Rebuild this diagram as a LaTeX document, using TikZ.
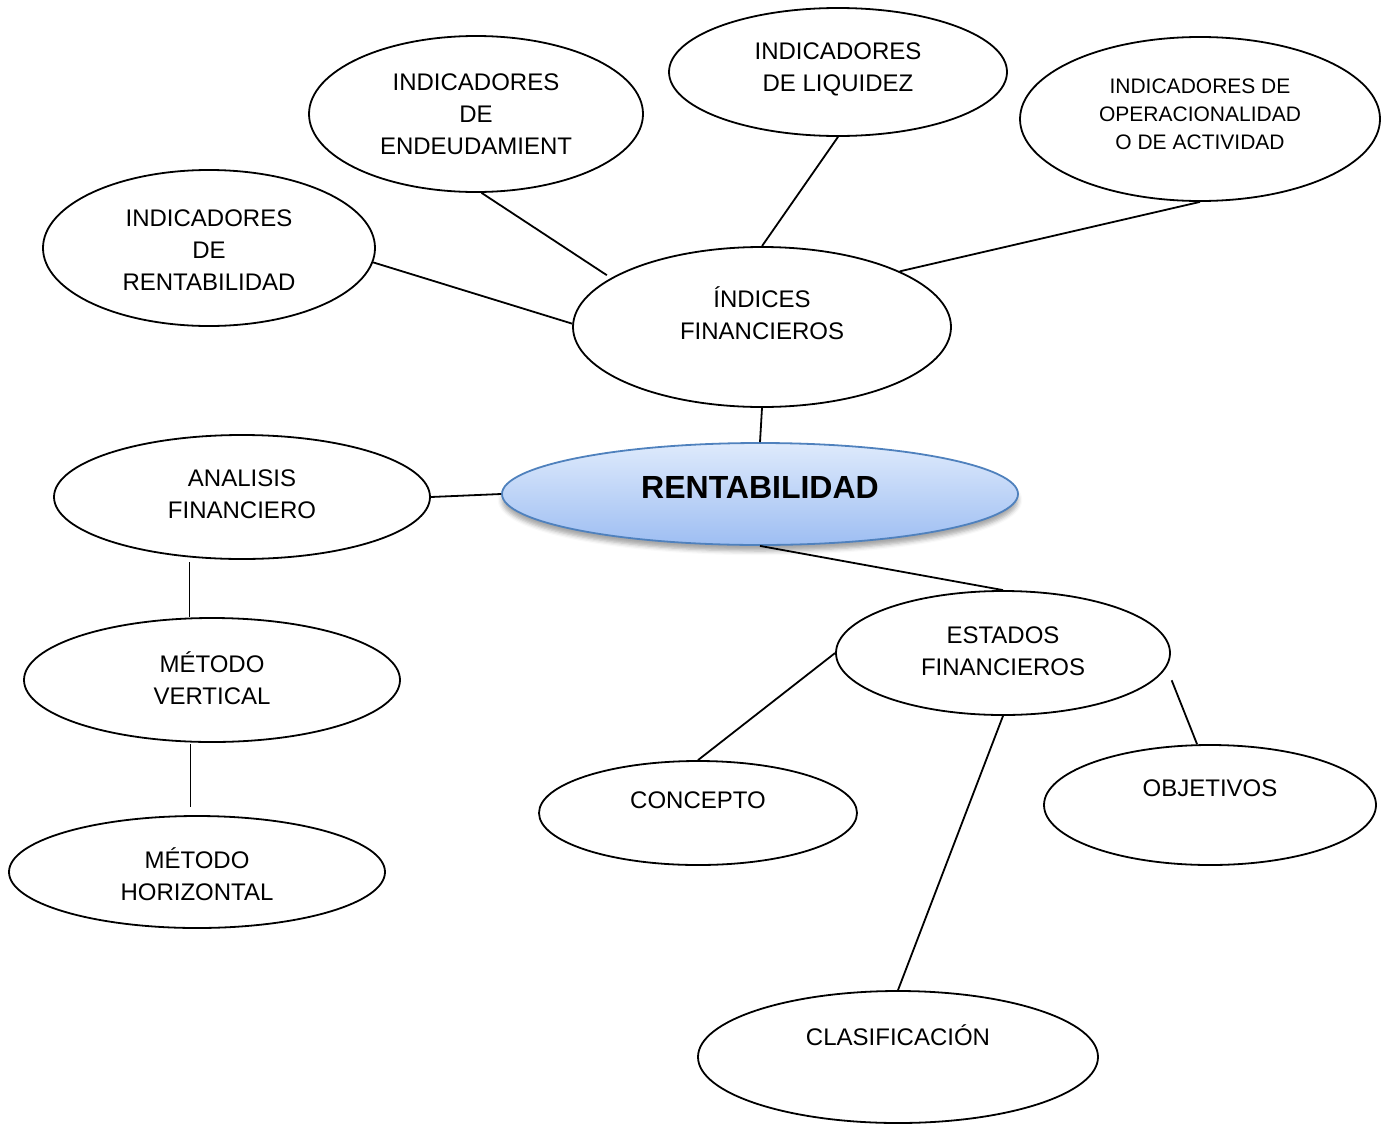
\documentclass[tikz,border=0pt]{standalone}
\usepackage{fontspec}
\setmainfont{Liberation Sans}
\usetikzlibrary{shapes.geometric,shadows.blur}

\begin{document}
\begin{tikzpicture}[x=0.5pt, y=-0.5pt,
  bubble/.style={ellipse, draw, line width=0.9pt, inner sep=0pt},
  caption/.style={align=center, font=\fontsize{12}{16}\selectfont},
  link/.style={line width=0.9pt}]
% Define colors
\definecolor{hubtop}{RGB}{222,234,252}
\definecolor{hubbottom}{RGB}{158,190,242}
\definecolor{hubborder}{RGB}{79,129,189}

\useasboundingbox (0,0) rectangle (1386,1124);

% Draw central bubble
\node[bubble, draw=hubborder, top color=hubtop, bottom color=hubbottom,
  blur shadow={shadow xshift=0pt, shadow yshift=-3pt, shadow opacity=35},
  minimum width=258pt, minimum height=51pt,
  label={[name=rent-t, yshift=3.5pt, font=\fontsize{16}{19}\selectfont\bfseries]center:RENTABILIDAD}] (rent) at (760,494) {};

% Draw indicator bubbles
\node[bubble, minimum width=167pt, minimum height=78pt,
  label={[caption, name=endeu-t]center:INDICADORES\\DE\\ENDEUDAMIENT}] (endeu) at (476,114) {};
\node[bubble, minimum width=169pt, minimum height=64pt,
  label={[caption, name=liq-t, yshift=1.5pt]center:INDICADORES\\DE LIQUIDEZ}] (liq) at (838,72) {};
\node[bubble, minimum width=180pt, minimum height=82pt,
  label={[caption, name=oper-t, yshift=2.5pt, font=\fontsize{10.5}{14}\selectfont]center:INDICADORES DE\\OPERACIONALIDAD\\O DE ACTIVIDAD}] (oper) at (1200,119) {};
\node[bubble, minimum width=166pt, minimum height=78pt,
  label={[caption, name=rentind-t, yshift=-1pt]center:INDICADORES\\DE\\RENTABILIDAD}] (rentind) at (209,248) {};
\node[bubble, minimum width=189pt, minimum height=80pt,
  label={[caption, name=indices-t, yshift=7pt]center:ÍNDICES\\FINANCIEROS}] (indices) at (762,327) {};

% Draw analysis bubbles
\node[bubble, minimum width=188pt, minimum height=62pt,
  label={[caption, name=analisis-t, yshift=1.5pt]center:ANALISIS\\FINANCIERO}] (analisis) at (242,497) {};
\node[bubble, minimum width=188pt, minimum height=62pt,
  label={[caption, name=vertical-t, yshift=1pt]center:MÉTODO\\VERTICAL}] (vertical) at (212,680) {};
\node[bubble, minimum width=188pt, minimum height=56pt,
  label={[caption, name=horizontal-t, yshift=-1pt]center:MÉTODO\\HORIZONTAL}] (horizontal) at (197,872) {};

% Draw statement bubbles
\node[bubble, minimum width=167pt, minimum height=62pt,
  label={[caption, name=estados-t, yshift=1pt]center:ESTADOS\\FINANCIEROS}] (estados) at (1003,653) {};
\node[bubble, minimum width=159pt, minimum height=52pt,
  label={[caption, name=concepto-t, yshift=6.5pt]center:CONCEPTO}] (concepto) at (698,813) {};
\node[bubble, minimum width=166pt, minimum height=60pt,
  label={[caption, name=objetivos-t, yshift=8.5pt]center:OBJETIVOS}] (objetivos) at (1210,805) {};
\node[bubble, minimum width=200pt, minimum height=66pt,
  label={[caption, name=clas-t, yshift=11pt]center:CLASIFICACIÓN}] (clas) at (898,1057) {};

% Draw connectors
\draw[link, shorten >=2.5pt] (endeu.-86) -- (indices.162);
\draw[link] (liq.south) -- (indices.north);
\draw[link] (oper.south) -- (indices.22);
\draw[link] (rentind.-5) -- (indices.179);
\draw[link] (indices.south) -- (rent.north);
\draw[link] (analisis.east) -- (rent.west);
\draw[link] (rent.south) -- (estados.north);
\draw[link, shorten <=2.5pt] (analisis.-131) -- (analisis.-131 |- vertical.north);
\draw[link, shorten <=1pt, shorten >=4pt] (vertical.-109) -- (vertical.-109 |- horizontal.north);
\draw[link] (estados.west) -- (concepto.north);
\draw[link] (estados.south) -- (clas.north);
\draw[link, shorten <=7pt] (estados.-5) -- (objetivos.102);
\end{tikzpicture}
\end{document}
